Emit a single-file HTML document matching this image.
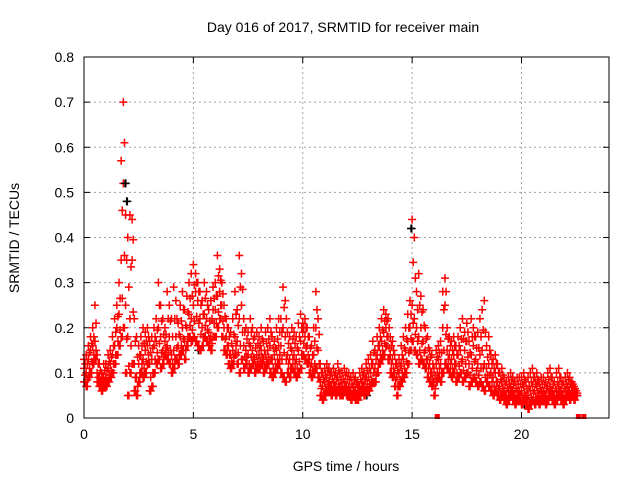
<!DOCTYPE html>
<html><head><meta charset="utf-8"><style>
body{margin:0;background:#fff;}
svg{display:block;font-family:"Liberation Sans",sans-serif;}
</style></head><body>
<svg id="chart" width="640" height="480" viewBox="0 0 640 480" xmlns="http://www.w3.org/2000/svg">
<rect width="640" height="480" fill="#fff"/>
<text x="343" y="32" font-size="14" text-anchor="middle">Day 016 of 2017, SRMTID for receiver main</text>
<text x="346" y="471" font-size="14" text-anchor="middle">GPS time / hours</text>
<text transform="translate(19,238) rotate(-90)" font-size="14" text-anchor="middle">SRMTID / TECUs</text>
<g id="grid"></g>
<g id="ticks"></g>
<g id="marks"></g>
<rect x="84" y="57" width="525" height="361" fill="none" stroke="#000" stroke-width="1"/>
</svg>
<script>
const xTicks=[0,5,10,15,20];
const yTicks=[0,0.1,0.2,0.3,0.4,0.5,0.6,0.7,0.8];
const yTickLabels=["0","0.1","0.2","0.3","0.4","0.5","0.6","0.7","0.8"];
const tStart=0, tStep=0.1;
const lo=[.08,.07,.09,.10,.12,.13,.08,.07,.06,.07,
.07,.08,.09,.10,.12,.14,.16,.18,.20,.10,
.05,.10,.12,.06,.05,.08,.10,.09,.10,.12,
.06,.07,.10,.12,.13,.11,.12,.14,.13,.12,
.10,.11,.13,.12,.14,.15,.13,.16,.18,.17,
.18,.17,.16,.15,.16,.18,.17,.16,.15,.18,
.18,.20,.22,.18,.15,.14,.12,.11,.12,.14,
.12,.10,.13,.11,.12,.10,.11,.12,.10,.11,
.11,.12,.10,.11,.12,.10,.09,.10,.11,.12,
.10,.09,.08,.10,.09,.11,.10,.09,.10,.11,
.14,.13,.12,.10,.09,.10,.11,.09,.05,.04,
.05,.06,.06,.05,.06,.05,.06,.05,.05,.06,
.05,.05,.04,.05,.04,.04,.05,.06,.05,.06,
.06,.07,.08,.08,.10,.12,.13,.14,.16,.13,
.10,.09,.07,.05,.07,.08,.09,.10,.12,.15,
.17,.15,.14,.12,.13,.12,.11,.09,.08,.07,
.05,.08,.09,.08,.10,.12,.11,.10,.09,.10,
.08,.09,.10,.08,.09,.10,.07,.08,.09,.08,
.07,.08,.07,.06,.08,.07,.06,.05,.06,.05,
.04,.05,.04,.03,.04,.05,.04,.03,.04,.04,
.03,.04,.03,.02,.03,.04,.03,.04,.03,.04,
.04,.03,.04,.05,.04,.03,.04,.05,.04,.03,
.04,.05,.04,.05,.04,.05];
const mid=[.11,.10,.13,.15,.16,.17,.10,.09,.08,.09,
.09,.11,.12,.14,.16,.20,.23,.35,.52,.25,
.18,.22,.35,.12,.09,.12,.14,.13,.15,.16,
.12,.13,.16,.17,.20,.18,.15,.17,.16,.18,
.14,.15,.18,.16,.18,.20,.17,.20,.23,.22,
.25,.28,.26,.22,.20,.23,.22,.19,.18,.24,
.24,.27,.28,.25,.20,.18,.16,.14,.15,.18,
.17,.22,.25,.16,.15,.14,.16,.15,.13,.14,
.14,.15,.13,.14,.15,.16,.13,.14,.15,.16,
.16,.20,.18,.14,.13,.15,.14,.13,.15,.17,
.19,.18,.16,.13,.12,.14,.20,.15,.08,.07,
.08,.09,.08,.07,.08,.07,.09,.07,.07,.08,
.07,.07,.06,.07,.06,.06,.07,.08,.07,.09,
.09,.10,.12,.11,.14,.16,.17,.19,.20,.18,
.14,.13,.10,.09,.10,.12,.13,.15,.17,.20,
.25,.22,.20,.18,.20,.17,.15,.13,.12,.10,
.08,.12,.13,.12,.20,.25,.15,.14,.13,.14,
.12,.14,.15,.13,.15,.17,.12,.14,.16,.13,
.12,.14,.15,.12,.11,.12,.10,.09,.10,.08,
.07,.08,.06,.05,.06,.07,.06,.05,.06,.06,
.06,.07,.05,.05,.06,.07,.06,.07,.05,.06,
.06,.05,.07,.07,.06,.05,.06,.07,.06,.05,
.06,.07,.06,.07,.06,.05];
const hi=[.13,.14,.16,.18,.20,.25,.14,.12,.10,.12,
.12,.14,.15,.18,.22,.25,.30,.57,.70,.45,
.40,.45,.44,.22,.18,.16,.18,.20,.19,.20,
.17,.18,.20,.22,.30,.25,.22,.20,.28,.25,
.22,.29,.26,.21,.25,.28,.24,.27,.30,.32,
.34,.32,.30,.28,.26,.30,.28,.24,.26,.29,
.30,.36,.33,.30,.25,.22,.20,.19,.22,.28,
.24,.36,.32,.22,.20,.19,.22,.20,.18,.19,
.18,.20,.17,.19,.20,.22,.18,.17,.20,.22,
.22,.29,.26,.19,.18,.20,.19,.18,.21,.23,
.21,.22,.20,.18,.16,.20,.28,.22,.12,.10,
.11,.12,.11,.10,.11,.10,.12,.10,.10,.11,
.10,.10,.09,.10,.09,.08,.10,.11,.10,.12,
.13,.14,.17,.15,.18,.20,.22,.24,.23,.22,
.18,.17,.14,.12,.13,.16,.18,.20,.23,.26,
.44,.40,.28,.32,.27,.24,.20,.18,.15,.14,
.11,.15,.16,.17,.28,.31,.20,.18,.17,.18,
.16,.18,.20,.22,.19,.21,.17,.22,.20,.18,
.19,.22,.24,.26,.16,.18,.14,.13,.14,.12,
.10,.11,.09,.08,.09,.10,.09,.08,.09,.09,
.09,.10,.08,.09,.10,.11,.09,.10,.08,.09,
.09,.08,.10,.11,.09,.08,.10,.11,.09,.08,
.09,.10,.09,.08,.07,.06];
const blackT=[1.88,1.95,14.95,5.2,12.9,20.1];
const blackV=[0.52,0.48,0.42,0.15,0.05,0.03];
const zeroT=[16.15,22.6,22.85];
const zeroV=[0,0,0];

const L=84,R=609,T=57,B=418;
function xs(t){return L+(t-0)/24*(R-L);}
function ys(v){return B-(v-0)/0.8*(B-T);}
const NS="http://www.w3.org/2000/svg";
const grid=document.getElementById('grid'),ticks=document.getElementById('ticks'),marks=document.getElementById('marks');
function mk(tag,attrs,parent){const e=document.createElementNS(NS,tag);for(const k in attrs)e.setAttribute(k,attrs[k]);parent.appendChild(e);return e;}
yTicks.forEach((v,i)=>{const y=ys(v);
 if(v>0&&v<0.8){const g=mk('line',{x1:L,x2:R,y1:y,y2:y,stroke:'#a0a0a0','stroke-dasharray':'2,3'},grid);
 
 }
 mk('line',{x1:L,x2:L+6,y1:y,y2:y,stroke:'#000'},ticks);mk('line',{x1:R-6,x2:R,y1:y,y2:y,stroke:'#000'},ticks);
 const t=mk('text',{x:L-10,y:y+5,'font-size':'14','text-anchor':'end'},ticks);t.textContent=yTickLabels[i];
 
 
});
xTicks.forEach(v=>{const x=xs(v);
 if(v>0){const g=mk('line',{x1:x,x2:x,y1:T,y2:B,stroke:'#a0a0a0','stroke-dasharray':'2,3'},grid);
 
 }
 mk('line',{x1:x,x2:x,y1:B,y2:B-6,stroke:'#000'},ticks);mk('line',{x1:x,x2:x,y1:T,y2:T+6,stroke:'#000'},ticks);
 const t=mk('text',{x:x,y:B+21,'font-size':'14','text-anchor':'middle'},ticks);t.textContent=String(v);
 
 
});
function plus(t,v,col,name){const x=xs(t),y=ys(v);
 const p=mk('path',{d:`M${x-4},${y}H${x+4}M${x},${y-4}V${y+4}`,stroke:col,'stroke-width':'1.5',fill:'none'},marks);
 
 }
blackT.forEach((t,i)=>plus(t+0.03,blackV[i],'#000','black-point'));
[lo,mid,hi].forEach(arr=>arr.forEach((v,i)=>{const other=(arr===hi?mid[i]:(arr===mid?lo[i]:v));plus(tStart+i*tStep,v,'#ff0000','red-point');plus(tStart+i*tStep+0.05,(v+other)/2,'#ff0000','red-point');}));
blackT.slice(0,3).forEach((t,i)=>plus(t,blackV[i],'#000','black-point'));
zeroT.forEach((t,i)=>{const r=mk('rect',{x:xs(t)-2.5,y:ys(zeroV[i])-4,width:5,height:5,fill:'#ff0000'},marks);
 
 });
</script>
</body></html>
